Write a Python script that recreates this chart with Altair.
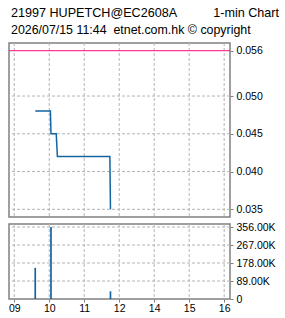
import altair as alt
import pandas as pd

# ---- data ----
title_left = "21997 HUPETCH@EC2608A"
title_right = "1-min Chart"
subtitle = "2026/07/15 11:44\u00a0\u00a0etnet.com.hk \u00a9 copyright"

line_times = ["09:36", "10:02", "10:03", "10:12", "10:14", "11:44", "11:45"]
line_prices = [0.048, 0.048, 0.045, 0.045, 0.042, 0.042, 0.035]

vol_times = ["09:36", "10:03", "11:45"]
vol_values = [154000, 356000, 38000]

prev_close = 0.056

hour_labels = ["09", "10", "11", "12", "14", "15", "16"]
price_ticks = [0.035, 0.040, 0.045, 0.050, 0.056]
vol_ticks = [0, 89000, 178000, 267000, 356000]


def trade_minutes(t):
    h, m = map(int, t.split(":"))
    mins = (h - 9) * 60 + m
    if h >= 13:
        mins -= 60  # lunch break removed
    return mins


line_df = pd.DataFrame({"t": [trade_minutes(t) for t in line_times], "price": line_prices})
vol_df = pd.DataFrame({"t": [trade_minutes(t) for t in vol_times], "vol": vol_values})
hour_vals = [i * 60 for i in range(len(hour_labels))]
hour_df = pd.DataFrame({"t": hour_vals})
pgrid_df = pd.DataFrame({"price": price_ticks[:-1]})
vgrid_df = pd.DataFrame({"vol": vol_ticks[1:]})

XDOM = [-9, 370]
PDOM = [0.03398, 0.05702]
VDOM = [0, 371000]
BLUE = "#1464a0"
GRIDC = "#b4b4b4"
DASH = [3, 2]
FONT = "Liberation Sans"

xs = alt.Scale(domain=XDOM, nice=False, zero=False)
ps = alt.Scale(domain=PDOM, nice=False, zero=False)
vs = alt.Scale(domain=VDOM, nice=False)

label_expr = "[" + ",".join("'%s'" % s for s in hour_labels) + "][round(datum.value/60)]"

common = dict(title=None, domain=False, grid=False, tickSize=3, tickColor="#808080",
              labelFont=FONT, labelFontSize=10.5, labelColor="#000000", labelOverlap=False)

price_axis = alt.Axis(orient="right", values=price_ticks, format=".3f", labelPadding=3, **common)
vol_axis = alt.Axis(orient="right", values=vol_ticks, labelPadding=3,
                    labelExpr="datum.value == 0 ? '0' : format(datum.value/1000, '.2f') + 'K'",
                    **common)
time_axis = alt.Axis(values=hour_vals, labelExpr=label_expr, labelPadding=1,
                     labelFlush=False, **common)

# ---------------- top (price) panel ----------------
vgrid_top = alt.Chart(hour_df).mark_rule(color=GRIDC, strokeDash=DASH, strokeWidth=1).encode(
    x=alt.X("t:Q", scale=xs, axis=None))
hgrid_top = alt.Chart(pgrid_df).mark_rule(color=GRIDC, strokeDash=DASH, strokeWidth=1).encode(
    y=alt.Y("price:Q", scale=ps, axis=price_axis))

price_line = alt.Chart(line_df).mark_line(color=BLUE, strokeWidth=1.5, clip=True).encode(
    x=alt.X("t:Q", scale=xs, axis=None),
    y=alt.Y("price:Q", scale=ps, axis=price_axis),
)

prev_rule = alt.Chart(pd.DataFrame({"price": [prev_close]})).mark_rule(
    color="#ff0a82", strokeWidth=1).encode(y=alt.Y("price:Q", scale=ps, axis=price_axis))

t1 = alt.Chart(pd.DataFrame({"s": [title_left]})).mark_text(
    align="left", baseline="alphabetic", font=FONT, fontSize=12.6, color="#000000"
).encode(x=alt.value(2), y=alt.value(-26), text="s:N")
t2 = alt.Chart(pd.DataFrame({"s": [title_right]})).mark_text(
    align="right", baseline="alphabetic", font=FONT, fontSize=12.6, color="#000000"
).encode(x=alt.value(270), y=alt.value(-26), text="s:N")
t3 = alt.Chart(pd.DataFrame({"s": [subtitle]})).mark_text(
    align="left", baseline="alphabetic", font=FONT, fontSize=12.4, color="#000000"
).encode(x=alt.value(2), y=alt.value(-9), text="s:N")

top = alt.layer(vgrid_top, hgrid_top, price_line, prev_rule, t1, t2, t3).properties(
    width=221, height=174)

# ---------------- bottom (volume) panel ----------------
vgrid_bot = alt.Chart(hour_df).mark_rule(color=GRIDC, strokeDash=DASH, strokeWidth=1).encode(
    x=alt.X("t:Q", scale=xs, axis=time_axis))
hgrid_bot = alt.Chart(vgrid_df).mark_rule(color=GRIDC, strokeDash=DASH, strokeWidth=1).encode(
    y=alt.Y("vol:Q", scale=vs, axis=vol_axis))

vol = alt.Chart(vol_df).mark_rule(color=BLUE, strokeWidth=1.7).encode(
    x=alt.X("t:Q", scale=xs, axis=time_axis),
    y=alt.Y("vol:Q", scale=vs, axis=vol_axis),
    y2=alt.datum(0),
)

bottom = alt.layer(vgrid_bot, hgrid_bot, vol).properties(width=221, height=75)

chart = alt.vconcat(top, bottom, spacing=7, bounds="flush").properties(
    padding={"left": 7, "top": 6, "right": 0, "bottom": 0},
    background="#ffffff",
).configure_view(stroke="#808080", strokeWidth=1.5)

chart.save("out.html", embed_options={"renderer": "svg", "actions": False})
